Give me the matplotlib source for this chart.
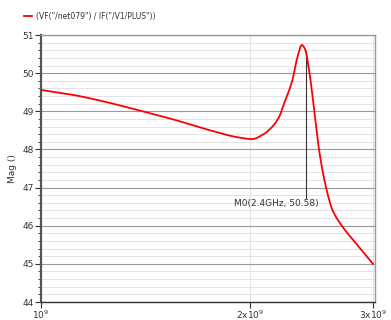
import numpy as np
import matplotlib
matplotlib.use("Agg")
import matplotlib.pyplot as plt
from matplotlib.ticker import FixedLocator, MultipleLocator, NullLocator

# curve (frequency in GHz, magnitude)
freq = np.array([1.0, 1.112, 1.242, 1.386, 1.547, 1.727, 1.928, 2.01, 2.081,
                 2.151, 2.2, 2.236, 2.27, 2.298, 2.337, 2.371, 2.398, 2.428,
                 2.47, 2.51, 2.567, 2.624, 2.713, 2.835, 3.0]) * 1e9
mag = np.array([49.56, 49.43, 49.24, 49.02, 48.79, 48.53, 48.31, 48.27, 48.38,
                48.6, 48.86, 49.21, 49.52, 49.82, 50.43, 50.74, 50.61, 50.08,
                49.03, 47.98, 47.02, 46.41, 45.97, 45.54, 45.0])

legend_label = '(VF("/net079") / IF("/V1/PLUS"))'
marker_f = 2.4e9
marker_v = 50.58
marker_text = "M0(2.4GHz, 50.58)"
xticks = [1e9, 2e9, 3e9]
xticklabels = [r"$10^9$", r"$2\mathrm{x}10^9$", r"$3\mathrm{x}10^9$"]
yticks = [44, 45, 46, 47, 48, 49, 50, 51]

plt.rcParams['mathtext.default'] = 'regular'
fig = plt.figure(figsize=(3.91, 3.2), dpi=100)
ax = fig.add_axes([41/391, 18/320, 334/391, 267/320])


# monotone cubic through the read points (in log-frequency)
def spline(x, y, xn):
    n = len(x)
    m = np.zeros(n)
    d = np.diff(y) / np.diff(x)
    m[0], m[-1] = d[0], d[-1]
    for i in range(1, n - 1):
        if d[i-1] * d[i] <= 0:
            m[i] = 0
        else:
            m[i] = 2 / (1/d[i-1] + 1/d[i])
    out = np.empty_like(xn)
    for j, xv in enumerate(xn):
        i = min(max(np.searchsorted(x, xv) - 1, 0), n - 2)
        h = x[i+1] - x[i]
        t = (xv - x[i]) / h
        out[j] = ((2*t**3 - 3*t**2 + 1)*y[i] + (t**3 - 2*t**2 + t)*h*m[i]
                  + (-2*t**3 + 3*t**2)*y[i+1] + (t**3 - t**2)*h*m[i+1])
    return out


lx = np.log10(freq)
xs = np.linspace(lx[0], lx[-1], 500)
ys = spline(lx, mag, xs)
ax.plot(10**xs, ys, color="#ff0000", lw=1.3, label=legend_label, zorder=3)

ax.set_xscale("log")
ax.set_xlim(1e9, 3.02e9)
ax.set_ylim(44, 51)
ax.xaxis.set_major_locator(FixedLocator(xticks))
ax.xaxis.set_minor_locator(NullLocator())
ax.set_xticklabels(xticklabels)
ax.set_yticks(yticks)
ax.yaxis.set_minor_locator(MultipleLocator(0.2))

ax.grid(which="major", axis="y", color="#999999", lw=0.8)
ax.grid(which="minor", axis="y", color="#e3e3e3", lw=0.7)
ax.grid(which="major", axis="x", color="#e3e3e3", lw=0.8)

for s in ["top", "right"]:
    ax.spines[s].set_color("#999999")
    ax.spines[s].set_linewidth(1.0)
ax.spines["left"].set_color("#555555")
ax.spines["left"].set_linewidth(1.6)
ax.spines["bottom"].set_color("#333333")
ax.spines["bottom"].set_linewidth(1.0)

ax.tick_params(axis="both", which="major", labelsize=6.5, length=4, color="#333333",
               labelcolor="#333333")
ax.tick_params(axis="x", which="major", pad=0.5)
ax.tick_params(axis="y", which="major", pad=1)
ax.tick_params(axis="y", which="minor", length=2, color="#333333")
ax.set_ylabel("Mag ()", fontsize=6.5, color="#333333", labelpad=4)

# marker
ax.plot([marker_f, marker_f], [46.73, marker_v], color="#333333", lw=0.8, zorder=2)
ax.text(marker_f * 1.045, 46.57, marker_text, fontsize=6.5, color="#333333",
        ha="right", va="center", zorder=4)

fig.legend(loc="upper left", bbox_to_anchor=(0.045, 0.985), frameon=False,
           fontsize=5.5, handlelength=1.0, handletextpad=0.5, labelcolor="#333333")

fig.savefig("out.png", dpi=100)
